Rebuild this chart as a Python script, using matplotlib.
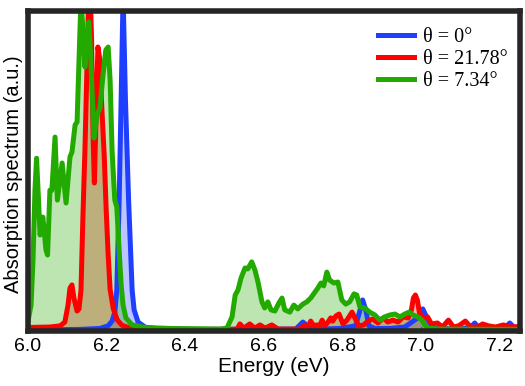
import matplotlib
matplotlib.use("Agg")
import matplotlib.pyplot as plt

# ---- data ----
blue_E = [6.001, 6.133, 6.184, 6.205, 6.215, 6.222, 6.227, 6.233, 6.238, 6.243, 6.249, 6.257,
          6.266, 6.271, 6.281, 6.299, 6.337, 6.438, 6.682, 6.700, 6.718, 6.743, 6.794, 6.834,
          6.844, 6.852, 6.860, 6.868, 6.883, 6.921, 6.959, 6.992, 7.005, 7.018, 7.031, 7.099,
          7.127, 7.137, 7.147, 7.202, 7.216, 7.226, 7.236, 7.252]
blue_I = [0.003, 0.005, 0.008, 0.016, 0.031, 0.059, 0.128, 0.409, 0.722, 1.05, 0.722, 0.409,
          0.128, 0.066, 0.028, 0.012, 0.006, 0.005, 0.006, 0.028, 0.009, 0.006, 0.008, 0.016,
          0.059, 0.097, 0.066, 0.016, 0.008, 0.008, 0.0125, 0.041, 0.069, 0.034, 0.009, 0.005,
          0.0125, 0.025, 0.009, 0.006, 0.0125, 0.025, 0.0125, 0.006]

red_E = [6.001, 6.057, 6.083, 6.095, 6.103, 6.108, 6.113, 6.118, 6.126, 6.131, 6.136, 6.141,
         6.146, 6.151, 6.157, 6.163, 6.167, 6.170, 6.174, 6.179, 6.184, 6.188, 6.195, 6.200,
         6.205, 6.210, 6.218, 6.228, 6.240, 6.261, 6.337, 6.515,
         6.533, 6.540, 6.550, 6.565, 6.578, 6.591, 6.604, 6.621, 6.637, 6.692, 6.705, 6.713,
         6.720, 6.728, 6.736, 6.741, 6.749, 6.756, 6.764, 6.771, 6.776, 6.784, 6.792, 6.802,
         6.812, 6.825, 6.835, 6.842, 6.855, 6.865, 6.878, 6.891, 6.904, 6.916, 6.929, 6.942,
         6.955, 6.968, 6.976, 6.981, 6.986, 6.991, 6.996, 7.004, 7.017, 7.027, 7.042, 7.055,
         7.070, 7.083, 7.096, 7.113, 7.127, 7.144, 7.157, 7.172, 7.190, 7.210, 7.226, 7.252]
red_I = [0.011, 0.0125, 0.016, 0.028, 0.081, 0.134, 0.144, 0.103, 0.0625, 0.069, 0.128, 0.3625,
         0.566, 0.816, 1.15, 0.909, 0.597, 0.4625, 0.659, 0.8875, 0.847, 0.72, 0.55, 0.38,
         0.24, 0.13, 0.07, 0.035, 0.018, 0.009, 0.005, 0.005,
         0.006, 0.022, 0.009, 0.022, 0.009, 0.019, 0.009, 0.019, 0.006, 0.006, 0.019, 0.0125,
         0.031, 0.016, 0.019, 0.0125, 0.034, 0.016, 0.028, 0.041, 0.031, 0.047, 0.053, 0.022,
         0.034, 0.059, 0.034, 0.016, 0.019, 0.031, 0.0375, 0.025, 0.041, 0.028, 0.034, 0.028,
         0.044, 0.041, 0.066, 0.103, 0.1125, 0.097, 0.059, 0.041, 0.044, 0.022, 0.025, 0.0125,
         0.034, 0.0125, 0.016, 0.031, 0.0125, 0.0125, 0.022, 0.016, 0.0125, 0.019, 0.0125, 0.014]

green_E = [6.001, 6.009, 6.014, 6.019, 6.023, 6.028, 6.032, 6.039, 6.047, 6.051, 6.057, 6.062,
           6.070, 6.076, 6.088, 6.098, 6.108, 6.113, 6.121, 6.126, 6.131, 6.136, 6.141, 6.146,
           6.151, 6.156, 6.161, 6.169, 6.177, 6.184, 6.192, 6.199, 6.205, 6.210, 6.215, 6.219,
           6.222, 6.227, 6.233, 6.238, 6.243, 6.250, 6.266, 6.299, 6.362, 6.489,
           6.507, 6.520, 6.528, 6.535, 6.543, 6.553, 6.560, 6.570, 6.578, 6.586, 6.596, 6.603,
           6.611, 6.619, 6.629, 6.639, 6.647, 6.654, 6.667, 6.677, 6.687, 6.700, 6.710, 6.720,
           6.731, 6.738, 6.746, 6.753, 6.761, 6.768, 6.779, 6.789, 6.799, 6.809, 6.819, 6.830,
           6.837, 6.845, 6.857, 6.870, 6.883, 6.896, 6.908, 6.921, 6.934, 6.947, 6.959, 6.970,
           6.980, 6.992, 7.003, 7.010, 7.018, 7.048, 7.252]
green_I = [0.028, 0.081, 0.222, 0.44, 0.54, 0.409, 0.3, 0.356, 0.253, 0.2375, 0.44, 0.44,
           0.606, 0.409, 0.525, 0.4, 0.544, 0.559, 0.644, 0.653, 0.847, 1.04, 0.94, 0.825,
           0.909, 0.966, 0.847, 0.603, 0.675, 0.697, 0.8, 0.878, 0.8875, 0.784, 0.566, 0.472,
           0.409, 0.3875, 0.253, 0.144, 0.081, 0.041, 0.019, 0.011, 0.008, 0.006,
           0.009, 0.044, 0.1125, 0.128, 0.166, 0.197, 0.194, 0.216, 0.191, 0.153, 0.091, 0.072,
           0.091, 0.066, 0.0625, 0.0875, 0.103, 0.066, 0.059, 0.081, 0.069, 0.084, 0.091, 0.103,
           0.122, 0.134, 0.15, 0.141, 0.184, 0.159, 0.15, 0.153, 0.097, 0.084, 0.091, 0.116,
           0.1125, 0.075, 0.072, 0.059, 0.05, 0.034, 0.044, 0.05, 0.053, 0.044, 0.053, 0.059,
           0.05, 0.044, 0.034, 0.019, 0.009, 0.006, 0.005]

labels = ["θ = 0°", "θ = 21.78°", "θ = 7.34°"]
xticks = [6.0, 6.2, 6.4, 6.6, 6.8, 7.0, 7.2]

c_blue = "#1f3fff"
c_red = "#ff0000"
c_green = "#22aa00"

fig = plt.figure(figsize=(5.25, 3.86), dpi=100)
ax = fig.add_axes([27.5 / 525, 55 / 386, 492.5 / 525, 320 / 386])

ax.fill_between(blue_E, 0, blue_I, color=c_blue, alpha=0.3, linewidth=0)
ax.fill_between(red_E, 0, red_I, color=c_red, alpha=0.3, linewidth=0)
ax.fill_between(green_E, 0, green_I, color=c_green, alpha=0.3, linewidth=0)

lw = 3.6
ax.plot(blue_E, blue_I, color=c_blue, lw=lw, solid_joinstyle="round", label=labels[0])
ax.plot(red_E, red_I, color=c_red, lw=lw, solid_joinstyle="round", label=labels[1])
ax.plot(green_E, green_I, color=c_green, lw=lw, solid_joinstyle="round", label=labels[2])

ax.set_xlim(6.0, 7.252)
ax.set_ylim(0, 1.0)
ax.set_yticks([])
ax.set_xticks(xticks)
ax.set_xticklabels([f"{t:.1f}" for t in xticks], fontsize=14, family="Liberation Sans")
ax.tick_params(axis="x", direction="in", length=3, width=1, color="#262626", pad=5)

for s in ax.spines.values():
    s.set_linewidth(4.0)
    s.set_color("#262626")

ax.set_xlabel("Energy (eV)", fontsize=15, family="Liberation Sans")
ax.xaxis.set_label_coords(0.5, -0.082)
ax.set_ylabel("Absorption spectrum (a.u.)", fontsize=14.5, family="Liberation Sans")
ax.yaxis.set_label_coords(-0.01, 0.49)

leg = ax.legend(loc="upper right", frameon=False,
                prop={"family": "Liberation Serif", "size": 14.5},
                handlelength=1.8, handletextpad=0.45, labelspacing=0.15,
                borderaxespad=0.2, bbox_to_anchor=(1.0, 0.985))

fig.savefig("out.png", dpi=100)
